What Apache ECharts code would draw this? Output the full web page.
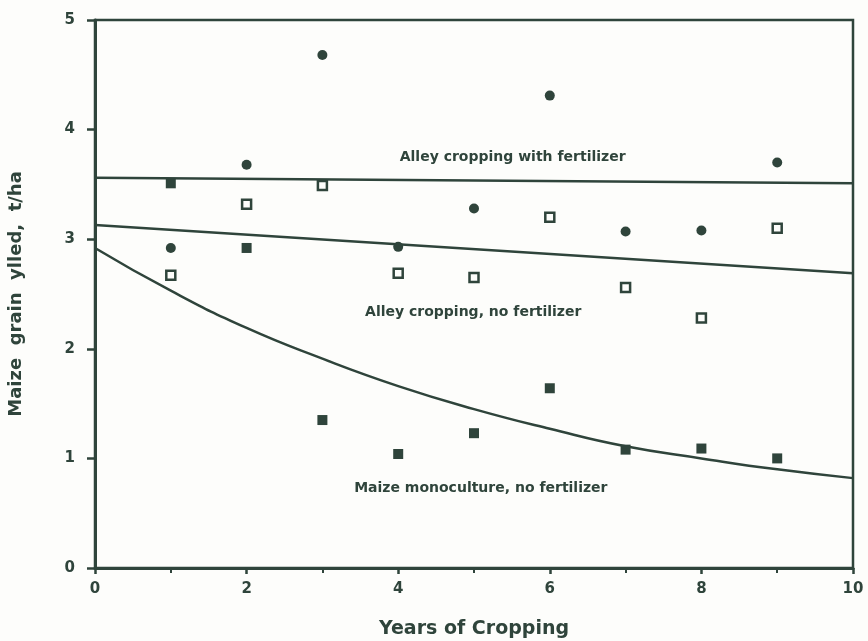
<!DOCTYPE html>
<html>
<head>
<meta charset="utf-8">
<script src="https://cdn.jsdelivr.net/npm/echarts@6/dist/echarts.min.js"></script>
<style>
  html, body { margin: 0; padding: 0; background: #fdfdfb; }
  #chart { width: 868px; height: 641px; }
</style>
</head>
<body>
<div id="chart"></div>
<script>
// years with measured yields
var years = [1, 2, 3, 4, 5, 6, 7, 8, 9];
// alley cropping with fertilizer (filled circles)
var fertPoints = [2.92, 3.68, 4.68, 2.93, 3.28, 4.31, 3.07, 3.08, 3.70];
// alley cropping, no fertilizer (open squares)
var alleyPoints = [2.67, 3.32, 3.49, 2.69, 2.65, 3.20, 2.56, 2.28, 3.10];
// maize monoculture, no fertilizer (filled squares)
var maizePoints = [3.51, 2.92, 1.35, 1.04, 1.23, 1.64, 1.08, 1.09, 1.00];

// fitted lines
var lineYears = [0, 10];
var fertLine = [3.56, 3.51];
var alleyLine = [3.13, 2.69];
var curveYears = [0, 1, 2, 3, 4, 5, 6, 7, 8, 9, 10];
var maizeCurve = [2.92, 2.53, 2.19, 1.91, 1.66, 1.45, 1.27, 1.11, 1.00, 0.90, 0.82];

// curve labels (placed in data coordinates)
var labelText = ['Alley cropping with fertilizer', 'Alley cropping, no fertilizer', 'Maize monoculture, no fertilizer'];
var labelX = [5.51, 4.99, 5.09];
var labelY = [3.75, 2.33, 0.73];

var xTicks = [0, 2, 4, 6, 8, 10];
var yTicks = [0, 1, 2, 3, 4, 5];

var ink = '#2f443b';
var font = 'DejaVu Sans';

function pairs(xs, ys) {
    var out = [];
    for (var i = 0; i < xs.length; i++) {
        out.push([xs[i], ys[i]]);
    }
    return out;
}

var myChart = echarts.init(document.getElementById('chart'));

myChart.setOption({
    backgroundColor: '#fdfdfb',
    animation: false,
    grid: {
        left: 95, right: 15, top: 20, bottom: 73,
        outerBoundsMode: 'none', containLabel: false,
        show: true, borderColor: ink, borderWidth: 2.5, backgroundColor: 'transparent'
    },
    xAxis: {
        type: 'value',
        min: 0, max: 10, interval: 2,
        name: 'Years of Cropping',
        nameLocation: 'middle',
        nameGap: 52,
        nameTextStyle: {color: ink, fontFamily: font, fontWeight: 'bold', fontSize: 19},
        axisLine: {show: true, lineStyle: {color: ink, width: 3}},
        axisTick: {show: true, length: 6, lineStyle: {color: ink, width: 2.5}},
        minorTick: {show: true, splitNumber: 2, length: 5, lineStyle: {color: ink, width: 2}},
        splitLine: {show: false},
        axisLabel: {
            color: ink, fontFamily: font, fontWeight: 'bold', fontSize: 15, margin: 14,
            formatter: function(v) { return xTicks.indexOf(v) >= 0 ? String(v) : ''; }
        }
    },
    yAxis: {
        type: 'value',
        min: 0, max: 5, interval: 1,
        name: 'Maize  grain  ylled,  t/ha',
        nameLocation: 'middle',
        nameGap: 70,
        nameTextStyle: {color: ink, fontFamily: font, fontWeight: 'bold', fontSize: 18},
        axisLine: {show: true, lineStyle: {color: ink, width: 3}},
        axisTick: {show: true, length: 8, lineStyle: {color: ink, width: 2.5}},
        splitLine: {show: false},
        axisLabel: {
            color: ink, fontFamily: font, fontWeight: 'bold', fontSize: 15, margin: 20,
            formatter: function(v) { return yTicks.indexOf(v) >= 0 ? String(v) : ''; }
        }
    },
    series: [
        {
            name: 'fert line', type: 'line', data: pairs(lineYears, fertLine),
            showSymbol: false, lineStyle: {color: ink, width: 2.5}, z: 2
        },
        {
            name: 'alley line', type: 'line', data: pairs(lineYears, alleyLine),
            showSymbol: false, lineStyle: {color: ink, width: 2.5}, z: 2
        },
        {
            name: 'maize curve', type: 'line', data: pairs(curveYears, maizeCurve),
            smooth: true, showSymbol: false, lineStyle: {color: ink, width: 2.5}, z: 2
        },
        {
            name: 'Alley cropping with fertilizer', type: 'scatter',
            data: pairs(years, fertPoints), symbol: 'circle', symbolSize: 10,
            itemStyle: {color: ink, opacity: 1}, z: 3
        },
        {
            name: 'Alley cropping, no fertilizer', type: 'scatter',
            data: pairs(years, alleyPoints), symbol: 'rect', symbolSize: 9,
            itemStyle: {color: '#fdfdfb', borderColor: ink, borderWidth: 2.5, opacity: 1}, z: 3
        },
        {
            name: 'Maize monoculture, no fertilizer', type: 'scatter',
            data: pairs(years, maizePoints), symbol: 'rect', symbolSize: 10,
            itemStyle: {color: ink, opacity: 1}, z: 3
        },
        {
            name: 'labels', type: 'scatter', symbolSize: 0, silent: true, z: 4,
            itemStyle: {opacity: 1},
            data: labelText.map(function(t, i) {
                return {value: [labelX[i], labelY[i]], name: t};
            }),
            label: {
                show: true, position: 'inside', formatter: '{b}', opacity: 1,
                color: ink, fontFamily: font, fontWeight: 'bold', fontSize: 14
            }
        }
    ]
});
</script>
</body>
</html>
